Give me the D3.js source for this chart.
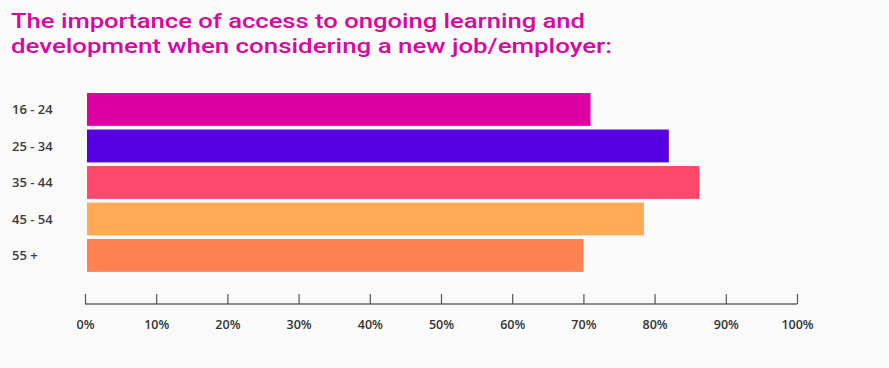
<!DOCTYPE html>
<html>
<head>
<meta charset="utf-8">
<script src="https://cdn.jsdelivr.net/npm/d3@7"></script>
<style>
  html, body { margin: 0; padding: 0; background: #fafafa; }
  svg { display: block; }
</style>
</head>
<body>
<div id="chart"></div>
<script>
// chart data
const titleLines = ['The importance of access to ongoing learning and', 'development when considering a new job/employer:'];
const ageGroups = ['16 - 24', '25 - 34', '35 - 44', '45 - 54', '55 +'];
const shares = [71, 82, 86.3, 78.5, 70];
const barColors = ['#dd00a3', '#5400e0', '#ff486a', '#ffaa56', '#ff8252'];
const tickValues = [0, 10, 20, 30, 40, 50, 60, 70, 80, 90, 100];

const width = 889;
const height = 368;

const svg = d3.select('#chart')
  .append('svg')
  .attr('width', width)
  .attr('height', height)
  .style('background', '#fafafa');

// title
svg.append('g')
  .selectAll('text')
  .data(titleLines)
  .join('text')
  .attr('x', 11)
  .attr('y', (d, i) => 28 + i * 25)
  .attr('fill', '#d8079f')
  .style('font', '500 21px Roboto, sans-serif')
  .attr('textLength', (d, i) => i === 0 ? 574 : 601)
  .attr('lengthAdjust', 'spacingAndGlyphs')
  .text(d => d);

const x = d3.scaleLinear().domain([0, 100]).range([85, 797]);
const y = d3.scaleBand()
  .domain(ageGroups)
  .range([91.2, 273.7])
  .paddingInner(0.1)
  .paddingOuter(0.05);

// bars
svg.append('g')
  .selectAll('rect')
  .data(ageGroups)
  .join('rect')
  .attr('x', x(0) + 2)
  .attr('y', d => y(d))
  .attr('width', (d, i) => x(shares[i]) - x(0) - 2)
  .attr('height', y.bandwidth())
  .attr('fill', (d, i) => barColors[i]);

// category labels
svg.append('g')
  .selectAll('text')
  .data(ageGroups)
  .join('text')
  .attr('x', 12)
  .attr('y', d => y(d) + y.bandwidth() / 2)
  .attr('dy', '0.35em')
  .attr('fill', '#3b3b3b')
  .style('font', '600 13px "Open Sans", sans-serif')
  .text(d => d);

// axis
const axis = svg.append('g')
  .attr('transform', 'translate(0,304)')
  .call(d3.axisBottom(x)
    .tickValues(tickValues)
    .tickSize(-10)
    .tickPadding(16)
    .tickFormat(d => d + '%'));

axis.select('.domain')
  .attr('stroke', '#666')
  .attr('stroke-width', 1.5)
  .attr('d', `M${x(0)},0H${x(100)}`);
axis.selectAll('.tick line')
  .attr('stroke', '#555')
  .attr('stroke-width', 1.2);
axis.selectAll('.tick text')
  .attr('fill', '#333')
  .style('font', '600 12.5px "Open Sans", sans-serif');
</script>
</body>
</html>
